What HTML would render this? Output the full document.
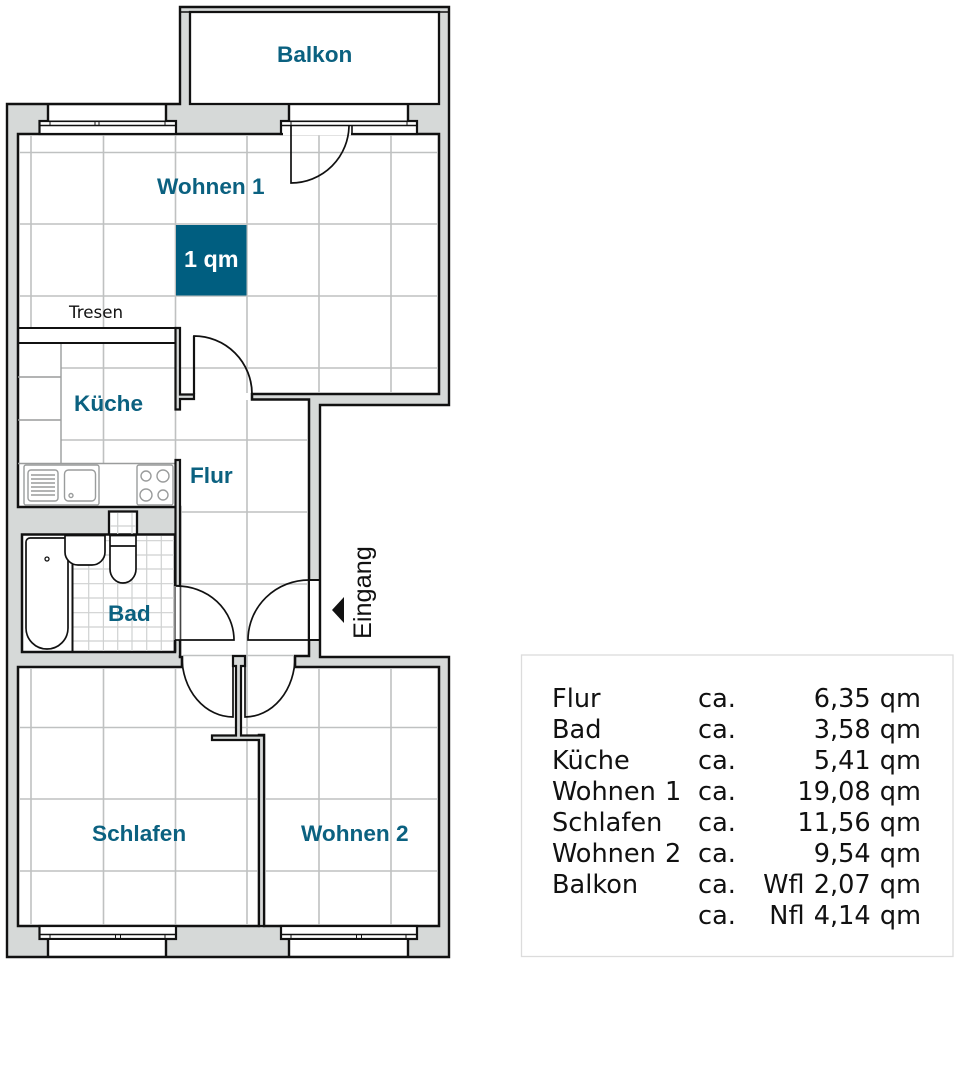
<!DOCTYPE html>
<html><head><meta charset="utf-8"><style>
html,body{margin:0;padding:0;background:#fff}
svg{display:block}
.l{font:bold 22.6px "Liberation Sans",sans-serif;fill:#0b6180}
.t{font:25.6px "DejaVu Sans",sans-serif;fill:#111;word-spacing:1px}
</style></head><body>
<svg width="960" height="1090" viewBox="0 0 960 1090" xmlns="http://www.w3.org/2000/svg">
<rect width="960" height="1090" fill="#fff"/>
<!-- building -->
<path d="M7,104H180V7H449V405H320V657H449V957H7Z" fill="#d6d9d8" stroke="#111" stroke-width="2.400"/>
<!-- balcony -->
<path d="M190,12H439V104H190Z" fill="#fff" stroke="#111" stroke-width="2.300"/>
<path d="M181,12H190M439,12H448" stroke="#111" stroke-width="1.500"/>
<!-- interior -->
<path d="M18,134H439V394H252V399.500H309V656H295V667H439V926H264V735H259V926H18V667H182V657H180V507H18Z" fill="#fff" stroke="#111" stroke-width="2.500"/>
<rect x="183.500" y="654" width="110" height="4" fill="#fff"/>
<!-- grid -->
<g stroke="#bfc1c1" stroke-width="1.600" fill="none">
<path d="M31,135V328M31,668V925M103.500,135V328M103.500,343V463M103.500,668V925M175.500,135V328M175.500,410V460M175.500,668V925M247,135V393M247,400V925M319,135V393M319,668V925M391,135V393M391,668V925"/>
<path d="M19,152.500H438M19,224H438M19,296H438M61,368H438M61,440H308M181,512H308M181,584H308M183,655.500H294M19,727.500H438M19,799H258M265,799H438M19,871H258M265,871H438"/>
</g>
<!-- kitchen cabinets & counter -->
<g stroke="#9a9c9c" stroke-width="1.400" fill="none">
<path d="M61,343V463M18,377H61M18,420H61M18,463.500H175"/>
<rect x="24" y="465" width="75" height="40" rx="2"/>
<rect x="28" y="470" width="30" height="31" rx="3"/>
<rect x="64.500" y="470" width="31" height="31" rx="4"/>
<circle cx="71" cy="495.500" r="2"/>
<rect x="137" y="465" width="36" height="40" rx="2"/>
<circle cx="146" cy="476" r="5"/><circle cx="163" cy="476" r="6"/>
<circle cx="146" cy="495" r="6"/><circle cx="163" cy="495" r="5"/>
<path d="M31,475H55M31,479H55M31,483H55M31,487H55M31,491H55M31,495H55"/>
</g>
<!-- tresen -->
<path d="M18,328H178M18,343H176" stroke="#111" stroke-width="2" fill="none"/>
<!-- partitions -->
<path d="M175.500,328H180V394.500H194V399H180V409.500H175.500Z" fill="#d6d9d8" stroke="#111" stroke-width="2.200"/>
<path d="M175.500,507V460H180V586H175.500Z" fill="#d6d9d8" stroke="#111" stroke-width="2.200"/>
<!-- shaft -->
<rect x="109" y="511.500" width="28" height="26" fill="#fff" stroke="#111" stroke-width="2.300"/>
<!-- bad -->
<rect x="22" y="534.500" width="153" height="117.500" fill="#fff" stroke="#111" stroke-width="2.500"/>
<g stroke="#cfd1d1" stroke-width="1.200" fill="none">
<path d="M88.700,536V651M103.400,536V651M117.700,513V651M132,513V651M146.700,536V651M161.300,536V651"/>
<path d="M73,555H174M73,569H174M73,583.700H174M73,598H174M73,612.700H174M73,627H174M73,641H174M73,540.700H174M110,526H136"/>
</g>
<g stroke="#111" stroke-width="1.700" fill="#fff">
<path d="M72.500,535.500V651" fill="none" stroke-width="2"/>
<path d="M30,538H68V628a21,21 0 0 1 -42,0V542a4,4 0 0 1 4,-4Z"/>
<circle cx="47" cy="559" r="2" stroke-width="1.300"/>
<path d="M65,535.500V552a13,13 0 0 0 13,13H92a13,13 0 0 0 13,-13V535.500Z"/>
<path d="M110,535.500V569a13,14 0 0 0 26,0V535.500Z"/>
<path d="M110,546H136" fill="none"/>
<path d="M109,535H137" fill="none" stroke-width="2"/>
</g>
<!-- bad door -->
<rect x="174.500" y="586" width="6" height="54" fill="#fff"/>
<path d="M175.500,586V640M180,586V640" stroke="#777" stroke-width="1" fill="none"/>
<path d="M175,640H234A57,54 0 0 0 176,586" stroke="#111" stroke-width="1.700" fill="none"/>
<path d="M175,640V652" stroke="#111" stroke-width="2.500"/>
<rect x="176.500" y="641.500" width="2.500" height="14" fill="#d6d9d8"/>
<path d="M180,640V657" stroke="#111" stroke-width="2.300"/>
<!-- entrance -->
<rect x="310" y="580.500" width="9" height="59" fill="#fff"/>
<path d="M309,580V640M319.500,580V640" stroke="#111" stroke-width="1.500"/>
<path d="M309,580H319.500M309,640H319.500" stroke="#111" stroke-width="2"/>
<path d="M309,640H248A61,60 0 0 1 309,580" stroke="#111" stroke-width="1.700" fill="none"/>
<path d="M332,610L344,597V623Z" fill="#111"/>
<!-- lower doors -->
<path d="M233,657V717A51,60 0 0 1 182,657" stroke="#111" stroke-width="1.700" fill="none"/>
<path d="M245,657V717A50,60 0 0 0 295,657" stroke="#111" stroke-width="1.700" fill="none"/>
<!-- wall stem -->
<path d="M233,656H245V666H241V735.500H264V926H259V740H212V735.500H236V666H233Z" fill="#d6d9d8" stroke="#111" stroke-width="2.200"/>
<path d="M182,656V667M295,656V667" stroke="#111" stroke-width="2.200"/>
<!-- upper door living room -->
<path d="M194,394V336A58,58 0 0 1 252,394" stroke="#111" stroke-width="1.800" fill="none"/>
<path d="M194,336V394" stroke="#111" stroke-width="2.200"/>
<!-- top-left window -->
<rect x="39.500" y="121" width="136.500" height="13" fill="#fff" stroke="#111" stroke-width="2.200"/>
<rect x="48" y="105.500" width="118" height="15" fill="#fff"/>
<path d="M48,104V121M166,104V121" stroke="#111" stroke-width="2.400"/>
<path d="M39.500,125.500H176" stroke="#111" stroke-width="1.600"/>
<path d="M50,121V125.500M95,121V125.500M99,121V125.500M165,121V125.500" stroke="#111" stroke-width="1"/>
<!-- top-right window/door -->
<rect x="281" y="121" width="136" height="13" fill="#fff" stroke="#111" stroke-width="2.200"/>
<rect x="283" y="126" width="68" height="9.300" fill="#fff"/>
<path d="M352,125V134" stroke="#111" stroke-width="1.600"/>
<path d="M319,135.500V133" stroke="none"/>
<rect x="289" y="105.500" width="119" height="15" fill="#fff"/>
<path d="M289,104V121M408,104V121" stroke="#111" stroke-width="2.400"/>
<path d="M281,125.500H417" stroke="#111" stroke-width="1.600"/>
<path d="M291,121V125.500M407,121V125.500" stroke="#111" stroke-width="1"/>
<path d="M291,125V183A58,58 0 0 0 349,125" stroke="#111" stroke-width="1.700" fill="none"/>
<!-- bottom windows -->
<rect x="39.500" y="926" width="136.500" height="13" fill="#fff" stroke="#111" stroke-width="2.200"/>
<rect x="48" y="940" width="118" height="15.500" fill="#fff"/>
<path d="M48,939V957M166,939V957" stroke="#111" stroke-width="2.400"/>
<path d="M39.500,934.500H176" stroke="#111" stroke-width="1.600"/>
<path d="M50,934.500V939M115.500,934.500V939M120.500,934.500V939M165,934.500V939" stroke="#111" stroke-width="1"/>
<rect x="281" y="926" width="136" height="13" fill="#fff" stroke="#111" stroke-width="2.200"/>
<rect x="289" y="940" width="119" height="15.500" fill="#fff"/>
<path d="M289,939V957M408,939V957" stroke="#111" stroke-width="2.400"/>
<path d="M281,934.500H417" stroke="#111" stroke-width="1.600"/>
<path d="M291,934.500V939M356.500,934.500V939M361.500,934.500V939M406,934.500V939" stroke="#111" stroke-width="1"/>
<!-- 1 qm -->
<rect x="176" y="225" width="70.500" height="70.500" fill="#005e80"/>
<!-- labels -->
<text class="l" x="277" y="62">Balkon</text>
<text class="l" x="157" y="194">Wohnen 1</text>
<text class="l" x="184" y="267" style="fill:#fff;font-size:23.400px">1 qm</text>
<text class="l" x="74" y="411">Küche</text>
<text class="l" x="190" y="483">Flur</text>
<text class="l" x="108" y="621">Bad</text>
<text class="l" x="92" y="841">Schlafen</text>
<text class="l" x="301" y="841">Wohnen 2</text>
<text x="69" y="318" style="font:16.700px 'DejaVu Sans',sans-serif;fill:#111">Tresen</text>
<text transform="translate(371,639) rotate(-90)" style="font:25.300px 'Liberation Sans',sans-serif;fill:#111">Eingang</text>
<!-- table -->
<rect x="521.500" y="655" width="431.500" height="301.500" fill="#fff" stroke="#dcdcdc" stroke-width="1.300"/>
<g>
<text class="t" x="552" y="707">Flur</text>
<text class="t" x="552" y="738">Bad</text>
<text class="t" x="552" y="769">Küche</text>
<text class="t" x="552" y="800">Wohnen 1</text>
<text class="t" x="552" y="831">Schlafen</text>
<text class="t" x="552" y="862">Wohnen 2</text>
<text class="t" x="552" y="893">Balkon</text>
<text class="t" x="698" y="707">ca.</text>
<text class="t" x="698" y="738">ca.</text>
<text class="t" x="698" y="769">ca.</text>
<text class="t" x="698" y="800">ca.</text>
<text class="t" x="698" y="831">ca.</text>
<text class="t" x="698" y="862">ca.</text>
<text class="t" x="698" y="893">ca.</text>
<text class="t" x="698" y="924">ca.</text>
<text class="t" x="921" y="707" text-anchor="end">6,35 qm</text>
<text class="t" x="921" y="738" text-anchor="end">3,58 qm</text>
<text class="t" x="921" y="769" text-anchor="end">5,41 qm</text>
<text class="t" x="921" y="800" text-anchor="end">19,08 qm</text>
<text class="t" x="921" y="831" text-anchor="end">11,56 qm</text>
<text class="t" x="921" y="862" text-anchor="end">9,54 qm</text>
<text class="t" x="921" y="893" text-anchor="end">Wfl 2,07 qm</text>
<text class="t" x="921" y="924" text-anchor="end">Nfl 4,14 qm</text>
</g>
</svg>
</body></html>
